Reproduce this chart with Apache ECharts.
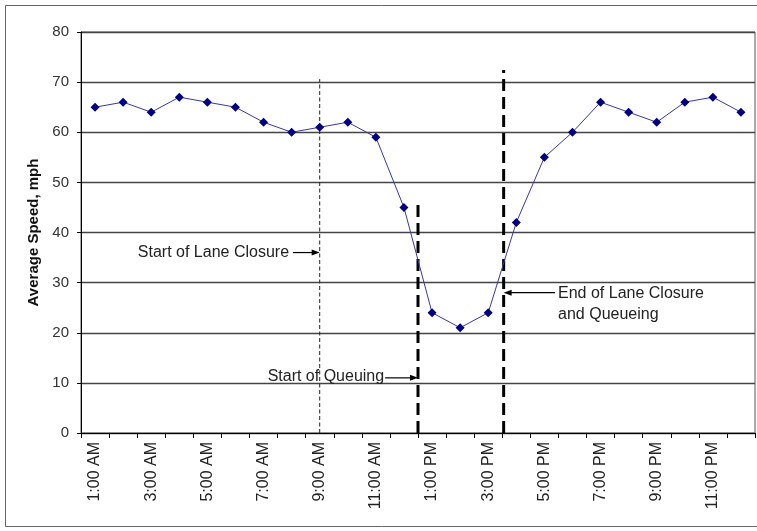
<!DOCTYPE html>
<html>
<head>
<meta charset="utf-8">
<script src="https://cdn.jsdelivr.net/npm/echarts@6/dist/echarts.min.js"></script>
<style>
html,body{margin:0;padding:0;background:#fff;}
#c{width:757px;height:531px;}
</style>
</head>
<body>
<div id="c"></div>
<script>
const categories = ['1:00 AM','2:00 AM','3:00 AM','4:00 AM','5:00 AM','6:00 AM','7:00 AM','8:00 AM','9:00 AM','10:00 AM','11:00 AM','12:00 PM',
  '1:00 PM','2:00 PM','3:00 PM','4:00 PM','5:00 PM','6:00 PM','7:00 PM','8:00 PM','9:00 PM','10:00 PM','11:00 PM','12:00 AM'];
const speeds = [65,66,64,67,66,65,62,60,61,62,59,45,24,21,24,42,55,60,66,64,62,66,67,64];
const yTicks = [0,10,20,30,40,50,60,70,80];
// event markers: position on hour-slot scale (slot i spans i..i+1), top value
const laneClosureStart = [8.5, 70.6];
const queueStart = [12, 46];
const closureEnd = [15.05, 72.4];
// annotations: [text, arrow tail x, arrow head x, y value]
const noteLane = ['Start of Lane Closure', 7.55, 8.5, 36];
const noteQueue = ['Start of Queuing', 10.83, 12, 11];
const noteEnd = ['End of Lane Closure\nand Queueing', 16.88, 15.05, 28];

const chart = echarts.init(document.getElementById('c'), null, {renderer:'canvas'});
const FONT = 'Liberation Sans, Arial, sans-serif';
function vline(p, w, dash, color){
  return {type:'line', xAxisIndex:1, yAxisIndex:0, data:[[p[0],0],[p[0],p[1]]], symbol:'none', silent:true,
    lineStyle:{color:color, width:w, type:dash}, z:3, animation:false};
}
chart.setOption({
  animation:false,
  grid:{left:81, right:2, top:32, bottom:98, show:true, borderColor:'#555', borderWidth:1},
  xAxis:[{
    type:'category', data:categories, boundaryGap:true,
    axisLine:{lineStyle:{color:'#000', width:1}},
    axisTick:{show:true, length:5, interval:0, lineStyle:{color:'#000'}},
    axisLabel:{interval:1, rotate:90, fontSize:16, color:'#222', fontFamily:FONT, margin:9},
    splitLine:{show:false}
  },{
    type:'value', min:0, max:24, show:false
  }],
  yAxis:{
    type:'value', min:yTicks[0], max:yTicks[yTicks.length-1], interval:10,
    name:'Average Speed, mph', nameLocation:'middle', nameGap:40,
    nameTextStyle:{fontSize:15, fontWeight:'bold', color:'#111', fontFamily:FONT},
    axisLine:{show:true, lineStyle:{color:'#000', width:1}},
    axisTick:{show:true, length:4, lineStyle:{color:'#000'}},
    axisLabel:{fontSize:15, color:'#333', fontFamily:FONT, margin:12},
    splitLine:{show:true, lineStyle:{color:'#444', width:1.3}}
  },
  series:[
    {type:'line', data:speeds, symbol:'diamond', symbolSize:9, z:5,
     lineStyle:{color:'#3838a0', width:1}, itemStyle:{color:'#000080'}},
    vline(laneClosureStart, 1, [4,2.5], '#222'),
    vline(queueStart, 3, [12,6], '#000'),
    vline(closureEnd, 3, [12,6], '#000')
  ]
});

function px(x,y){ return chart.convertToPixel({xAxisIndex:1, yAxisIndex:0}, [x,y]); }
function arrow(note){
  const a = px(note[1], note[3]), b = px(note[2], note[3]);
  const dir = b[0] > a[0] ? 1 : -1;
  return [
    {type:'line', shape:{x1:a[0], y1:a[1], x2:b[0]-dir*6, y2:b[1]}, style:{stroke:'#000', lineWidth:1.2}, z:10},
    {type:'polygon', shape:{points:[[b[0],b[1]],[b[0]-dir*8,b[1]-3],[b[0]-dir*8,b[1]+3]]}, style:{fill:'#000'}, z:10}
  ];
}
const g = [];
g.push({type:'rect', shape:{x:5.5, y:5.5, width:800, height:521}, style:{fill:'none', stroke:'#666', lineWidth:1}, z:0});
g.push(...arrow(noteLane), ...arrow(noteQueue), ...arrow(noteEnd));
let p = px(noteLane[1], noteLane[3]);
g.push({type:'text', x:p[0]-4, y:p[1], style:{text:noteLane[0], font:'16px '+FONT, fill:'#222', align:'right', verticalAlign:'middle'}, z:10});
p = px(noteQueue[1], noteQueue[3]);
g.push({type:'text', x:p[0]-1, y:p[1]-1, style:{text:noteQueue[0], font:'16px '+FONT, fill:'#222', align:'right', verticalAlign:'middle'}, z:10});
p = px(noteEnd[1], noteEnd[3]);
g.push({type:'text', x:p[0]+3, y:p[1]-10, style:{text:noteEnd[0], font:'16px '+FONT, fill:'#222', align:'left', verticalAlign:'top', lineHeight:21}, z:10});
chart.setOption({graphic:g});
</script>
</body>
</html>
